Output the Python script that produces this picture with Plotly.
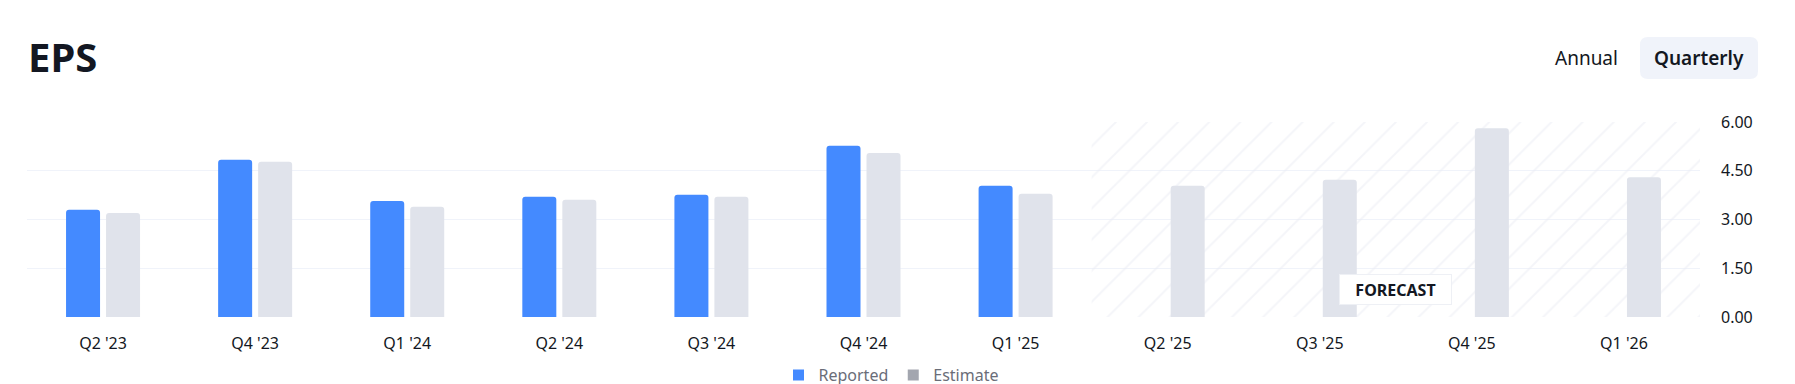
import plotly.graph_objects as go

# ---- data -------------------------------------------------------------
quarters = ["Q2 '23", "Q4 '23", "Q1 '24", "Q2 '24", "Q3 '24", "Q4 '24",
            "Q1 '25", "Q2 '25", "Q3 '25", "Q4 '25", "Q1 '26"]
reported = [3.30, 4.84, 3.57, 3.70, 3.76, 5.27, 4.04, None, None, None, None]
estimate = [3.20, 4.78, 3.39, 3.61, 3.70, 5.05, 3.79, 4.04, 4.22, 5.81, 4.30]
y_ticks = [0, 1.5, 3, 4.5, 6]
forecast_first = "Q2 '25"      # first forecast quarter
forecast_count = 4             # number of forecast quarters

# ---- styling ----------------------------------------------------------
OFF = 8                              # default page body margin
W, H = 1795 - OFF, 384 - OFF
L, R, T, B = 27, 1700, 122, 317      # plot area in page pixels
FONT = "Noto Sans"
DARK = "#131722"
BLUE = "#448aff"
GREY_BAR = "#e0e3eb"
GREY_LEG = "#a3a6af"
GRID = "#f0f3fa"

def px_x(p):
    return (p - L) / (R - L)

def px_y(p):
    return (B - p) / (B - T)

fig = go.Figure()

# hatched forecast region (drawn first, below bars)
fig.add_trace(go.Bar(
    x=[forecast_first], y=[max(y_ticks)],
    width=[forecast_count], offset=[-0.5],
    marker=dict(color="rgba(0,0,0,0)", cornerradius=0, line=dict(width=0),
                pattern=dict(shape="/", fgcolor="#eaecf4", bgcolor="rgba(0,0,0,0)",
                             size=22, solidity=0.09)),
    showlegend=False, hoverinfo="skip",
))

fig.add_trace(go.Bar(x=quarters, y=reported, name="Reported",
                     marker=dict(color=BLUE, line=dict(width=0)), showlegend=False))
fig.add_trace(go.Bar(x=quarters, y=estimate, name="Estimate",
                     marker=dict(color=GREY_BAR, line=dict(width=0)), showlegend=False))

# legend swatches
fig.add_trace(go.Scatter(x=[None], y=[None], mode="markers", name="Reported",
                         marker=dict(symbol="square", size=11, color=BLUE)))
fig.add_trace(go.Scatter(x=[None], y=[None], mode="markers", name="Estimate",
                         marker=dict(symbol="square", size=11, color=GREY_LEG)))

# Quarterly pill background
x0, x1, y0, y1 = 1640, 1758, 37, 79
r = 8
rx, ry = r / (R - L), r / (B - T)
X0, X1, Y0, Y1 = px_x(x0), px_x(x1), px_y(y1), px_y(y0)
path = (f"M {X0+rx},{Y0} L {X1-rx},{Y0} Q {X1},{Y0} {X1},{Y0+ry} "
        f"L {X1},{Y1-ry} Q {X1},{Y1} {X1-rx},{Y1} L {X0+rx},{Y1} "
        f"Q {X0},{Y1} {X0},{Y1-ry} L {X0},{Y0+ry} Q {X0},{Y0} {X0+rx},{Y0} Z")
fig.add_shape(type="path", path=path, xref="paper", yref="paper",
              fillcolor="#f0f3fa", line=dict(width=0), layer="below")

annotations = [
    dict(text="<b>EPS</b>", x=px_x(26), y=px_y(56), xref="paper", yref="paper",
         xanchor="left", yanchor="middle", showarrow=False,
         font=dict(family=FONT, size=40, color=DARK)),
    dict(text="Annual", x=px_x(1553), y=px_y(58), xref="paper", yref="paper",
         xanchor="left", yanchor="middle", showarrow=False,
         font=dict(family=FONT, size=19, color=DARK)),
    dict(text="Quarterly", x=px_x(1699), y=px_y(58), xref="paper", yref="paper",
         xanchor="center", yanchor="middle", showarrow=False,
         font=dict(family=FONT, size=19, color=DARK, weight=600)),
    dict(text="<b>FORECAST</b>", x=quarters.index(forecast_first) + (forecast_count - 1) / 2,
         y=px_y(289), xref="x", yref="paper",
         xanchor="center", yanchor="middle", showarrow=False,
         width=111, height=29, bgcolor="white", borderpad=0,
         bordercolor="#eef0f5", borderwidth=1,
         font=dict(family=FONT, size=16, color=DARK)),
]

fig.update_layout(
    width=W, height=H,
    margin=dict(l=L - OFF, r=1795 - R, t=T - OFF, b=384 - B, autoexpand=False),
    paper_bgcolor="white", plot_bgcolor="white",
    barmode="group", bargap=0.474, bargroupgap=0.15, barcornerradius=3,
    font=dict(family=FONT, color=DARK),
    showlegend=True,
    legend=dict(orientation="h", x=px_x(891), xanchor="center",
                y=px_y(375), yanchor="middle",
                font=dict(family=FONT, size=16, color="#6a6d78"),
                itemwidth=30, tracegroupgap=0, bgcolor="rgba(0,0,0,0)"),
    annotations=annotations,
    xaxis=dict(type="category", categoryorder="array", categoryarray=quarters,
               range=[-0.5, len(quarters) - 0.5],
               showgrid=False, zeroline=False, showline=False, ticks="",
               tickfont=dict(family=FONT, size=16, color=DARK),
               ticklabelstandoff=15),
    yaxis=dict(side="right", range=[0, max(y_ticks)], tickvals=y_ticks,
               tickformat=".2f", showgrid=True, gridcolor=GRID, gridwidth=1,
               zeroline=False, showline=False, ticks="",
               tickfont=dict(family=FONT, size=16, color=DARK),
               ticklabelstandoff=20),
)

fig.write_html("out.html")
